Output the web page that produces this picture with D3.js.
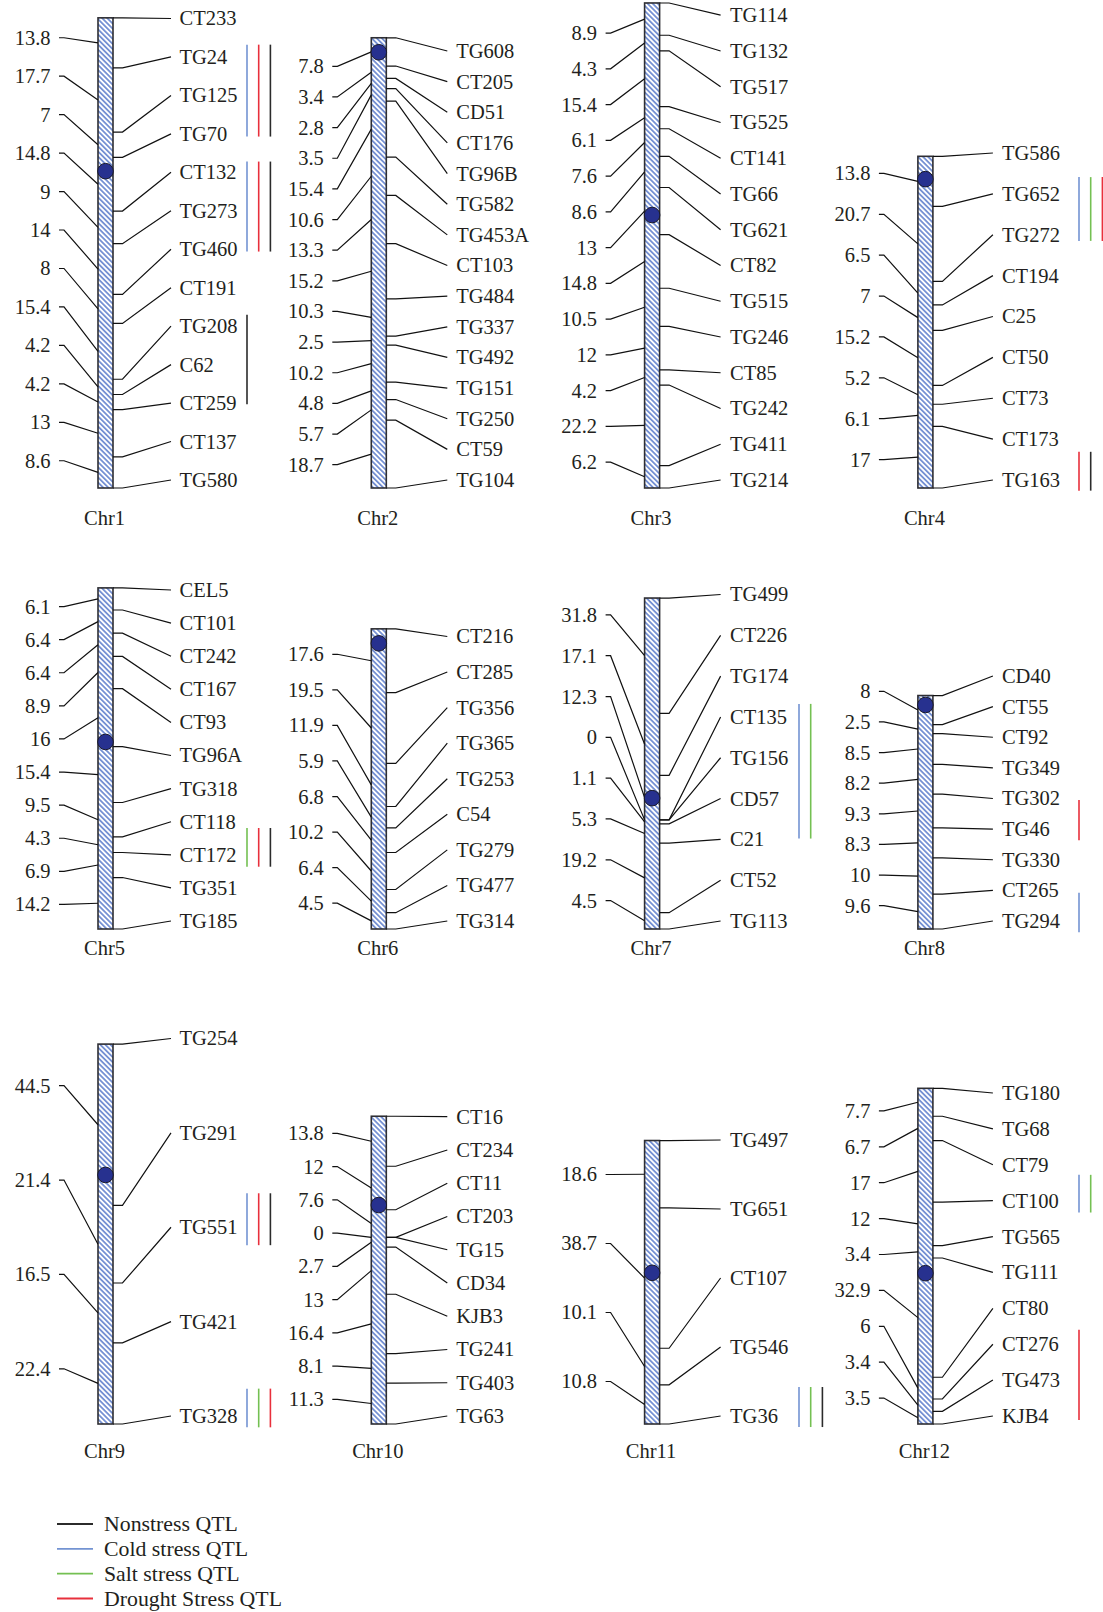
<!DOCTYPE html>
<html>
<head>
<meta charset="utf-8">
<script src="https://cdn.jsdelivr.net/npm/d3@7"></script>
<style>
  html, body { margin: 0; padding: 0; background: #fff; }
  svg text { font-family: "Liberation Serif", "DejaVu Serif", serif; fill: #231f20; }
</style>
</head>
<body>
<svg id="chart" width="1103" height="1612"></svg>
<script>
// ---------------- DATA ----------------
const chromosomes = ["Chr1","Chr2","Chr3","Chr4","Chr5","Chr6","Chr7","Chr8","Chr9","Chr10","Chr11","Chr12"];

const markers = [
  ["CT233","TG24","TG125","TG70","CT132","TG273","TG460","CT191","TG208","C62","CT259","CT137","TG580"],
  ["TG608","CT205","CD51","CT176","TG96B","TG582","TG453A","CT103","TG484","TG337","TG492","TG151","TG250","CT59","TG104"],
  ["TG114","TG132","TG517","TG525","CT141","TG66","TG621","CT82","TG515","TG246","CT85","TG242","TG411","TG214"],
  ["TG586","TG652","TG272","CT194","C25","CT50","CT73","CT173","TG163"],
  ["CEL5","CT101","CT242","CT167","CT93","TG96A","TG318","CT118","CT172","TG351","TG185"],
  ["CT216","CT285","TG356","TG365","TG253","C54","TG279","TG477","TG314"],
  ["TG499","CT226","TG174","CT135","TG156","CD57","C21","CT52","TG113"],
  ["CD40","CT55","CT92","TG349","TG302","TG46","TG330","CT265","TG294"],
  ["TG254","TG291","TG551","TG421","TG328"],
  ["CT16","CT234","CT11","CT203","TG15","CD34","KJB3","TG241","TG403","TG63"],
  ["TG497","TG651","CT107","TG546","TG36"],
  ["TG180","TG68","CT79","CT100","TG565","TG111","CT80","CT276","TG473","KJB4"]
];

// distances (cM) between consecutive markers
const intervals = [
  [13.8,17.7,7,14.8,9,14,8,15.4,4.2,4.2,13,8.6],
  [7.8,3.4,2.8,3.5,15.4,10.6,13.3,15.2,10.3,2.5,10.2,4.8,5.7,18.7],
  [8.9,4.3,15.4,6.1,7.6,8.6,13,14.8,10.5,12,4.2,22.2,6.2],
  [13.8,20.7,6.5,7,15.2,5.2,6.1,17],
  [6.1,6.4,6.4,8.9,16,15.4,9.5,4.3,6.9,14.2],
  [17.6,19.5,11.9,5.9,6.8,10.2,6.4,4.5],
  [31.8,17.1,12.3,0,1.1,5.3,19.2,4.5],
  [8,2.5,8.5,8.2,9.3,8.3,10,9.6],
  [44.5,21.4,16.5,22.4],
  [13.8,12,7.6,0,2.7,13,16.4,8.1,11.3],
  [18.6,38.7,10.1,10.8],
  [7.7,6.7,17,12,3.4,32.9,6,3.4,3.5]
];

// centromere position (cM from top)
const centromeres = [42.3, 4.0, 58.5, 6.3, 42.5, 4.0, 55.2, 2.6, 36.1, 24.5, 36.5, 51.0];

const qtlTypes = ["Nonstress QTL","Cold stress QTL","Salt stress QTL","Drought Stress QTL"];

// QTL spans in label-index units along the marker label column
const qtls = [
  {chr: 0, from: 0.68, to: 3.07, types: [1,3,0]},
  {chr: 0, from: 3.72, to: 6.06, types: [1,3,0]},
  {chr: 0, from: 7.70, to: 10.03, types: [0]},
  {chr: 3, from: 0.59, to: 2.15, types: [1,2,3]},
  {chr: 3, from: 7.31, to: 8.26, types: [3,0]},
  {chr: 4, from: 7.19, to: 8.36, types: [2,3,0]},
  {chr: 6, from: 2.68, to: 5.98, types: [1,2]},
  {chr: 7, from: 4.05, to: 5.36, types: [3]},
  {chr: 7, from: 7.08, to: 8.37, types: [1]},
  {chr: 8, from: 1.64, to: 2.19, types: [1,3,0]},
  {chr: 8, from: 3.71, to: 4.12, types: [1,2,3]},
  {chr: 10, from: 3.58, to: 4.16, types: [1,2,0]},
  {chr: 11, from: 2.28, to: 3.33, types: [1,2]},
  {chr: 11, from: 6.60, to: 9.11, types: [3]}
];

// ---------------- LAYOUT ----------------
const typeColors = ["#2b2b2b", "#7393d2", "#74c052", "#e8303c"];
const pxPerCM = 3.625;
const rowBottoms = [488, 929, 1424];
const rowNameOffset = [30, 19, 27];
const colCenter = c => 105.5 + c * 273.3;
const barW = 15;
const labelTops = [18.5, 51, 15.2, 153, 590, 636.5, 594.5, 676, 1038.5, 1116.7, 1140, 1093];
const textOffset = [66.5, 70, 70.5, 69];
const lineEnd = [58, 61, 61, 60];
const qtlColBase = [247, 520, 799, 1079];
const qtlStep = 11.7;
const fontSize = 20.5;

const svg = d3.select("#chart");
const defs = svg.append("defs");
const pat = defs.append("pattern")
  .attr("id", "hatch")
  .attr("patternUnits", "userSpaceOnUse")
  .attr("width", 3.6).attr("height", 3.6)
  .attr("patternTransform", "rotate(45)");
pat.append("rect").attr("width", 3.6).attr("height", 3.6).attr("fill", "#fff");
pat.append("line").attr("x1", 0).attr("y1", 1.8).attr("x2", 3.6).attr("y2", 1.8)
  .attr("stroke", "#5a7bcb").attr("stroke-width", 1.5);

const line = d3.line();

chromosomes.forEach((name, i) => {
  const row = Math.floor(i / 4), col = i % 4;
  const ints = intervals[i];
  const cum = [0, ...d3.cumsum(ints)];
  const total = cum[cum.length - 1];
  const bottom = rowBottoms[row];
  const y = d3.scaleLinear().domain([0, total]).range([bottom - total * pxPerCM, bottom]);
  const cx = colCenter(col);
  const xl = cx - barW / 2, xr = cx + barW / 2;
  const nLab = markers[i].length;
  const labY = d3.scaleLinear().domain([0, nLab - 1]).range([labelTops[i], bottom - 8]);

  const g = svg.append("g");

  // chromosome bar
  g.append("rect")
    .attr("x", xl).attr("y", y(0))
    .attr("width", barW).attr("height", y(total) - y(0))
    .attr("fill", "url(#hatch)")
    .attr("stroke", "#2e2e33").attr("stroke-width", 1.6);

  // right connectors + marker names
  markers[i].forEach((m, k) => {
    const ym = y(cum[k]), yl = labY(k);
    g.append("path")
      .attr("d", line([[xr, ym], [xr + 9.5, ym], [xr + lineEnd[col], yl]]))
      .attr("fill", "none").attr("stroke", "#111").attr("stroke-width", 1.2);
    g.append("text")
      .attr("x", xr + textOffset[col]).attr("y", yl).attr("dy", "0.34em")
      .attr("font-size", fontSize)
      .text(m);
  });

  // left connectors + interval distances
  ints.forEach((d, k) => {
    const ym = y((cum[k] + cum[k + 1]) / 2);
    const yl = labY(k + 0.5);
    g.append("path")
      .attr("d", line([[xl - 39, yl], [xl - 34, yl], [xl, ym]]))
      .attr("fill", "none").attr("stroke", "#111").attr("stroke-width", 1.2);
    g.append("text")
      .attr("x", xl - 47.5).attr("y", yl).attr("dy", "0.34em")
      .attr("text-anchor", "end")
      .attr("font-size", fontSize)
      .text(String(d));
  });

  // centromere
  g.append("circle")
    .attr("cx", cx).attr("cy", y(centromeres[i]))
    .attr("r", 7.8)
    .attr("fill", "#27318f").attr("stroke", "#1a1a2a").attr("stroke-width", 1);

  // chromosome name
  g.append("text")
    .attr("x", cx - 1).attr("y", bottom + rowNameOffset[row]).attr("dy", "0.34em")
    .attr("text-anchor", "middle")
    .attr("font-size", fontSize)
    .text(name);

  // QTL lines
  qtls.filter(q => q.chr === i).forEach(q => {
    q.types.forEach((t, j) => {
      const x = qtlColBase[col] + j * qtlStep;
      g.append("line")
        .attr("x1", x).attr("x2", x)
        .attr("y1", labY(q.from)).attr("y2", labY(q.to))
        .attr("stroke", typeColors[t]).attr("stroke-width", 1.6);
    });
  });
});

// legend
const legendY = d3.scaleLinear().domain([0, 3]).range([1524, 1598.5]);
const lg = svg.append("g");
qtlTypes.forEach((t, k) => {
  lg.append("line")
    .attr("x1", 57).attr("x2", 93)
    .attr("y1", legendY(k)).attr("y2", legendY(k))
    .attr("stroke", typeColors[k]).attr("stroke-width", 1.8);
  lg.append("text")
    .attr("x", 104).attr("y", legendY(k)).attr("dy", "0.34em")
    .attr("font-size", 21.8)
    .text(t);
});
</script>
</body>
</html>
